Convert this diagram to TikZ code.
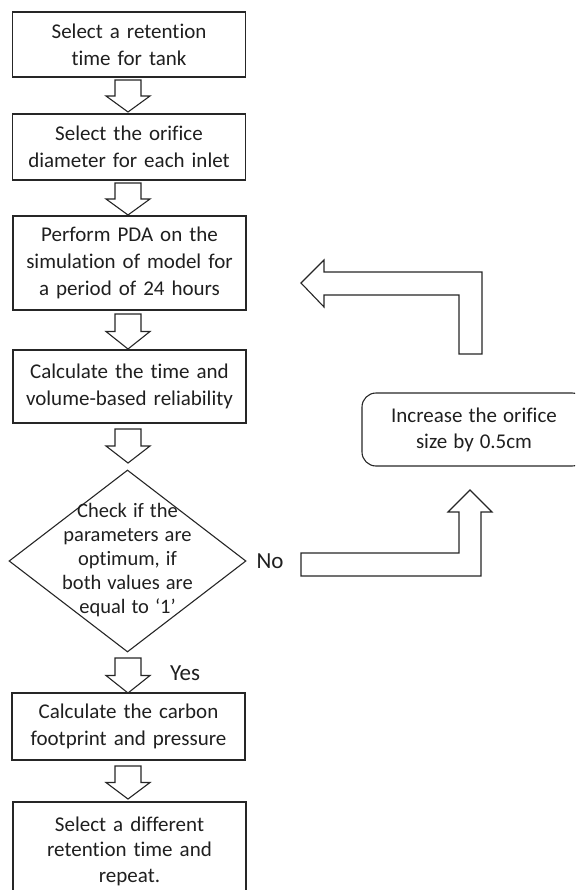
\documentclass[tikz,border=0pt]{standalone}
\usepackage{fontspec}
\setmainfont{Carlito}[Ligatures=NoCommon]
\usetikzlibrary{shapes.geometric}
\newcommand\wsp[1]{\spaceskip=#1\relax}
\tikzset{
  stepbox/.style={draw=black!85, line width=1.1pt, minimum width=233pt, inner sep=0pt, align=center, text=black!88, font=\fontsize{21}{27}\selectfont\wsp{7pt}},
  decbox/.style={draw=black!85, line width=1.1pt, diamond, minimum width=237pt, minimum height=182pt, inner sep=0pt},
  dectext/.style={inner sep=0pt, align=center, text=black!88, font=\fontsize{20.5}{24}\selectfont\wsp{6pt}},
  roundbox/.style={draw=black!85, line width=1.1pt, rounded corners=14pt, minimum width=224pt, minimum height=73pt, inner sep=0pt, align=center, text=black!88, font=\fontsize{21}{26}\selectfont\wsp{6pt}},
  blockarrow/.style={draw=black!85, line width=1.1pt, fill=white, line join=miter},
  lbl/.style={text=black!88, font=\fontsize{23}{26}\selectfont, inner sep=0pt}
}
\newcommand\blockdown[3]{% center x, top y, bottom y
  \draw[blockarrow] ({#1-13},#2) -- ({#1+13},#2) -- ({#1+13},{(#2+#3)/2}) -- ({#1+22},{(#2+#3)/2}) -- (#1,#3) -- ({#1-22},{(#2+#3)/2}) -- ({#1-13},{(#2+#3)/2}) -- cycle;}
\begin{document}
\begin{tikzpicture}[x=1pt,y=-1pt]
\useasboundingbox (0,0) rectangle (575,890);
\clip (0,0) rectangle (575,890);
\node[stepbox, minimum height=65pt] (b1) at (129,44.5) {Select a retention\\time for tank};
\node[stepbox, minimum height=66pt] (b2) at (129,147) {Select the orifice\\diameter for each inlet};
\node[stepbox, minimum height=94pt] (b3) at (129.5,263) {Perform PDA on the\\simulation of model for\\a period of 24 hours};
\node[stepbox, minimum height=73pt] (b4) at (129.5,386.5) {Calculate the time and\\volume-based reliability};
\node[decbox] (d) at (127.5,561) {};
\node[dectext] (dt) at ([yshift=1pt]d.center) {Check if the\\parameters are\\optimum, if\\both values are\\equal to ‘1’};
\node[stepbox, minimum height=67pt] (b6) at (128.5,726.5) {Calculate the carbon\\footprint and pressure};
\node[stepbox, minimum height=98pt, font=\fontsize{21}{25.5}\selectfont\wsp{7pt}] (b7) at (129.5,851) {Select a different\\retention time and\\repeat.};
\node[roundbox] (r) at (474,429.5) {Increase the orifice\\size by 0.5cm};
\node[lbl] (no) at (270,561) {No};
\node[lbl] (yes) at (185,673) {Yes};
\blockdown{128}{80}{112}
\blockdown{128}{183}{215}
\blockdown{128}{314}{349}
\blockdown{128}{429}{463}
\blockdown{128}{658}{693}
\blockdown{128}{766}{799}
\draw[blockarrow] (301,283) -- (324,260) -- (324,272) -- (482,272) -- (482,354) -- (459,354) -- (459,295) -- (324,295) -- (324,307) -- cycle;
\draw[blockarrow] (301,553) -- (459,553) -- (459,512) -- (448,512) -- (470,490) -- (492,512) -- (481,512) -- (481,576) -- (301,576) -- cycle;
\end{tikzpicture}
\end{document}
